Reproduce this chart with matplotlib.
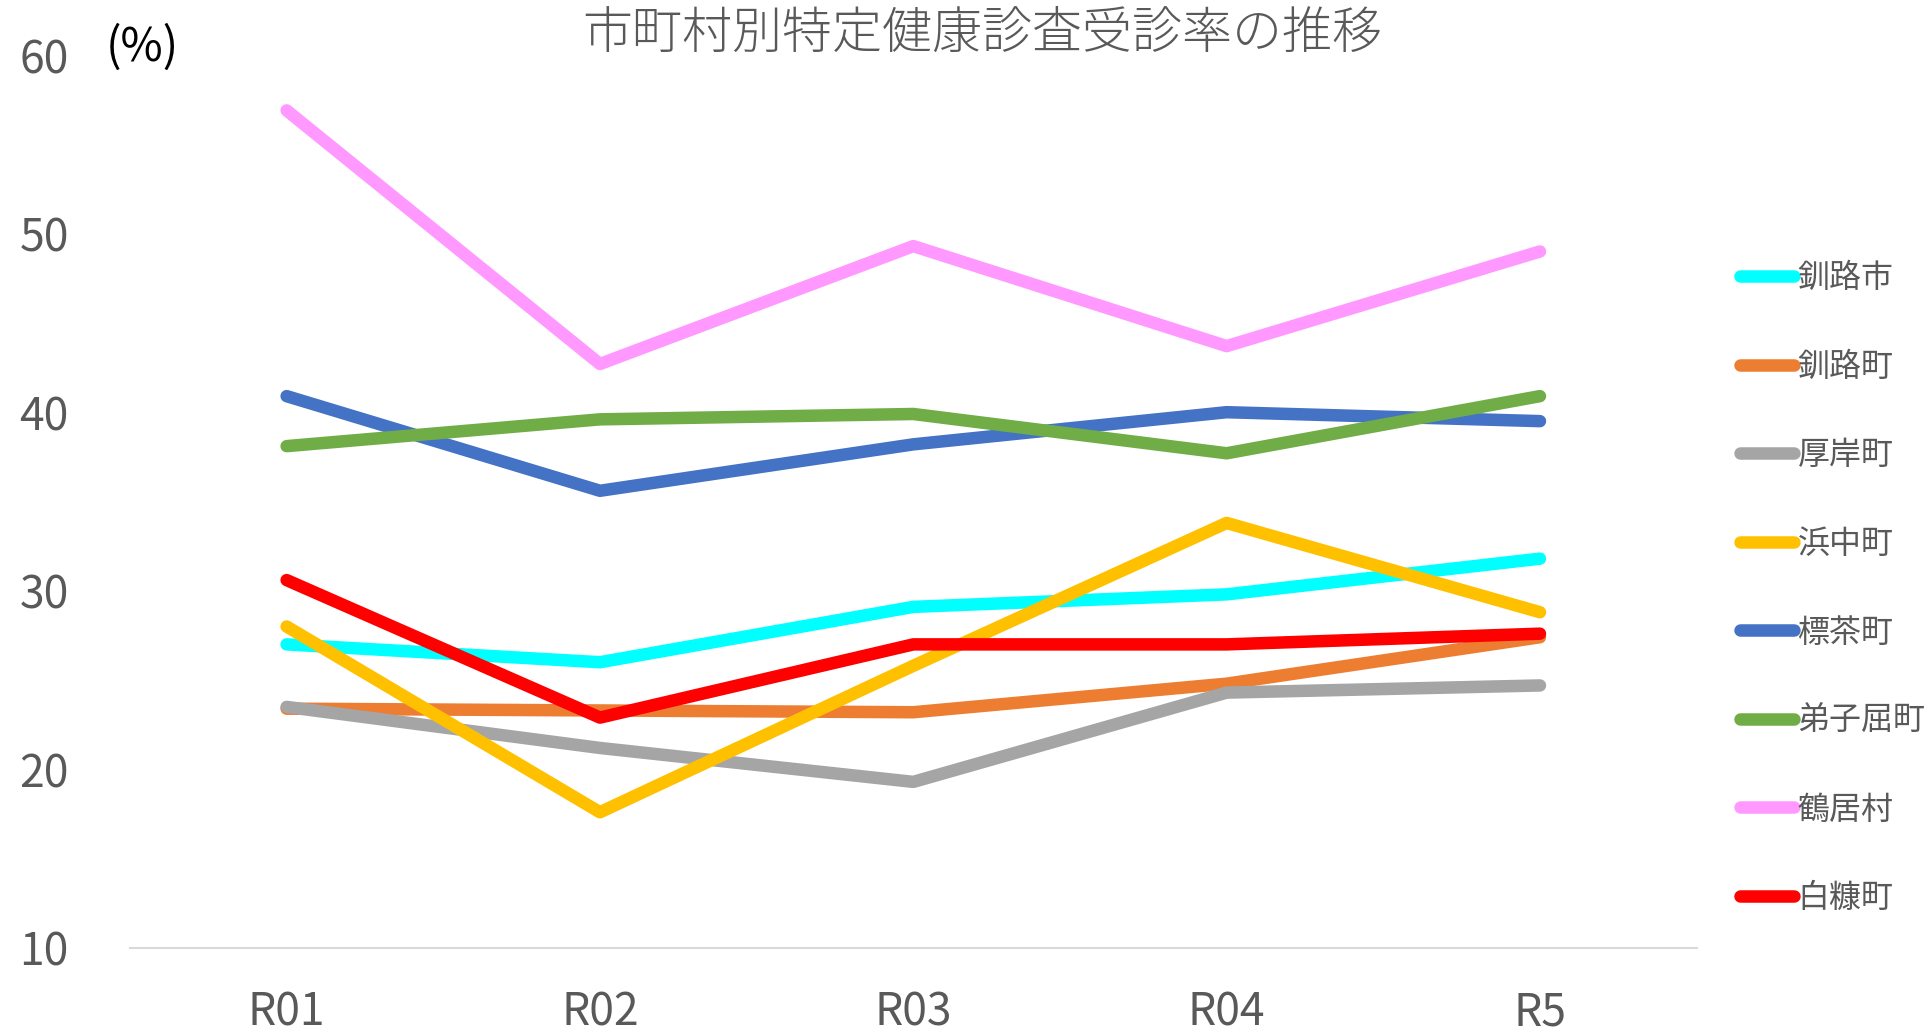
import matplotlib
matplotlib.use("Agg")
import matplotlib.pyplot as plt

plt.rcParams['font.family'] = ['Noto Sans CJK JP', 'DejaVu Sans']

# ── Data ──────────────────────────────────────────────────────────────────────
years = ["R01", "R02", "R03", "R04", "R5"]

kushiro_shi   = [27.0, 26.0, 29.1, 29.8, 31.8]
kushiro_cho   = [23.4, 23.3, 23.2, 24.8, 27.4]
akkeshi       = [23.5, 21.2, 19.3, 24.3, 24.7]
hamanaka      = [28.0, 17.6, 25.8, 33.8, 28.8]
shibecha      = [40.9, 35.6, 38.2, 40.0, 39.5]
teshikaga     = [38.1, 39.6, 39.9, 37.7, 40.9]
tsurui        = [56.9, 42.7, 49.3, 43.7, 49.0]
shiranuka     = [30.6, 22.9, 27.0, 27.0, 27.6]

names  = ["釧路市", "釧路町", "厚岸町", "浜中町", "標茶町", "弟子屈町", "鶴居村", "白糠町"]
series = [kushiro_shi, kushiro_cho, akkeshi, hamanaka, shibecha, teshikaga, tsurui, shiranuka]
colors = ["#00FFFF", "#ED7D31", "#A5A5A5", "#FFC000", "#4472C4", "#70AD47", "#FF99FF", "#FF0000"]

TEXT = "#595959"

fig = plt.figure(figsize=(19.28, 10.32), dpi=100)
ax = fig.add_axes([0.0674, 0.0814, 0.8126, 0.8653])

x = range(len(years))
for name, vals, c in zip(names, series, colors):
    ax.plot(x, vals, color=c, linewidth=9, solid_capstyle="round",
            solid_joinstyle="round", label=name)

ax.set_xlim(-0.5, len(years) - 0.5)
ax.set_ylim(10, 60)
ax.set_yticks(range(10, 61, 10))
ax.set_xticks(list(x))
ax.set_xticklabels(years)

for s in ["top", "right", "left"]:
    ax.spines[s].set_visible(False)
ax.spines["bottom"].set_color("#D9D9D9")
ax.spines["bottom"].set_linewidth(1.5)
ax.tick_params(axis="both", length=0, labelsize=32, labelcolor=TEXT)
ax.tick_params(axis="y", pad=44)
ax.tick_params(axis="x", pad=30)

fig.text(982 / 1928, 1 - 34 / 1032, "市町村別特定健康診査受診率の推移",
         ha="center", va="center", fontsize=36, color=TEXT, fontweight="light")
fig.text(106 / 1928, 1 - 48 / 1032, "(%)", ha="left", va="center",
         fontsize=33, color="black")

leg = fig.legend(loc="center left", bbox_to_anchor=(0.9025, 0.43),
                 frameon=False, fontsize=23, handlelength=1.7,
                 handletextpad=0.1, labelspacing=1.77,
                 borderpad=0, borderaxespad=0)
for t in leg.get_texts():
    t.set_color(TEXT)
for h in leg.get_lines():
    h.set_linewidth(9)
    h.set_solid_capstyle("round")

fig.savefig("out.png", dpi=100)
